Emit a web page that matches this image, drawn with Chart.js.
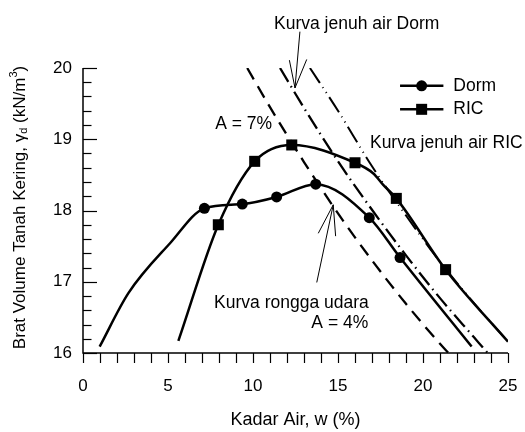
<!DOCTYPE html>
<html lang="id">
<head>
<meta charset="UTF-8">
<title>Kurva pemadatan Dorm dan RIC</title>
<script src="https://cdn.jsdelivr.net/npm/chart.js"></script>
<style>
  body { margin: 0; background: #fff; }
  canvas { display: block; }
</style>
</head>
<body>
<canvas id="chart" width="525" height="432"></canvas>
<script>
// Data: water content w (%) vs dry unit weight (kN/m3)
// Dorm curve (entries without marker are points along the drawn curve)
const dormW = [0.98, 2.67, 5.12, 7.14, 9.37, 11.39, 13.69, 16.84, 18.65, 22.86];
const dormG = [16.09, 16.84, 17.54, 18.03, 18.09, 18.19, 18.37, 17.90, 17.34, 16.09];
const dormMarked = [false, false, false, true, true, true, true, true, true, false];

// RIC curve
const ricW = [5.61, 7.96, 10.10, 12.28, 16.00, 17.08, 17.66, 18.43, 21.33, 25.00];
const ricG = [16.17, 17.80, 18.69, 18.92, 18.67, 18.52, 18.36, 18.17, 17.17, 16.16];
const ricMarked = [false, true, true, true, true, false, false, true, true, false];

// Air-void curve A = 4%
const airW = [9.66, 11, 13, 15, 17, 19, 21, 21.5];
const airG = [20.00, 19.45, 18.68, 17.96, 17.30, 16.69, 16.13, 16.00];

// Saturation curve Dorm
const satDormW = [11.59, 13, 15, 17, 19, 21, 23, 23.8];
const satDormG = [20.00, 19.44, 18.69, 18.01, 17.37, 16.77, 16.22, 16.00];

// Saturation curve RIC
const satRicW = [13.35, 15, 17, 19, 21, 23, 25];
const satRicG = [20.00, 19.40, 18.62, 17.93, 17.28, 16.70, 16.16];

const xTicks = [0, 5, 10, 15, 20, 25];
const yTicks = [16, 17, 18, 19, 20];

const FONT = '"Liberation Sans", Arial, Helvetica, sans-serif';

function pts(xs, ys) {
  return xs.map((x, i) => ({ x: x, y: ys[i] }));
}

// axes, tick marks, labels, arrows and legend, drawn through the scales
const decor = {
  id: 'decor',
  afterDraw(chart) {
    const ctx = chart.ctx;
    const xs = chart.scales.x, ys = chart.scales.y;
    const X = v => xs.getPixelForValue(v);
    const Y = v => ys.getPixelForValue(v);
    const a = chart.chartArea;

    ctx.save();
    ctx.strokeStyle = '#000';
    ctx.fillStyle = '#000';

    // axes
    ctx.lineWidth = 1.5;
    ctx.beginPath();
    ctx.moveTo(a.left, a.top);
    ctx.lineTo(a.left, a.bottom);
    ctx.lineTo(a.right, a.bottom);
    ctx.stroke();

    // y ticks pointing in, every 0.2
    ctx.lineWidth = 1.2;
    for (let i = 0; i <= 20; i++) {
      const v = 16 + i * 0.2;
      const len = i % 5 === 0 ? 14 : 8.5;
      const py = Math.round(Y(v)) + 0.5;
      ctx.beginPath();
      ctx.moveTo(a.left, py);
      ctx.lineTo(a.left + len, py);
      ctx.stroke();
    }
    // x ticks pointing out, every 1
    for (let v = 0; v <= 25; v++) {
      const px = Math.round(X(v)) + 0.5;
      ctx.beginPath();
      ctx.moveTo(px, a.bottom);
      ctx.lineTo(px, a.bottom + 10);
      ctx.stroke();
    }

    // axis titles
    ctx.font = '18px ' + FONT;
    ctx.textAlign = 'center';
    ctx.textBaseline = 'middle';
    ctx.fillText('Kadar Air, w (%)', (a.left + a.right) / 2, 420);

    ctx.save();
    ctx.translate(20, (a.top + a.bottom) / 2 - 3);
    ctx.rotate(-Math.PI / 2);
    const parts = [
      { t: 'Brat Volume Tanah Kering, \u03b3', s: 17, dy: 0 },
      { t: 'd', s: 11, dy: 4 },
      { t: ' (kN/m', s: 17, dy: 0 },
      { t: '3', s: 11, dy: -6 },
      { t: ')', s: 17, dy: 0 }
    ];
    let total = 0;
    parts.forEach(p => { ctx.font = p.s + 'px ' + FONT; p.w = ctx.measureText(p.t).width; total += p.w; });
    let cx = -total / 2;
    ctx.textAlign = 'left';
    parts.forEach(p => { ctx.font = p.s + 'px ' + FONT; ctx.fillText(p.t, cx, p.dy); cx += p.w; });
    ctx.restore();

    // text labels
    ctx.font = '17.5px ' + FONT;
    ctx.textBaseline = 'middle';
    ctx.textAlign = 'center';
    ctx.fillText('Kurva jenuh air Dorm', X(16.1), Y(20.62));
    ctx.textAlign = 'right';
    ctx.fillText('A = 7%', X(11.12), Y(19.21));
    ctx.fillText('A = 4%', X(16.78), Y(16.42));
    ctx.textAlign = 'left';
    ctx.fillText('Kurva jenuh air RIC', X(16.88), Y(18.95));
    ctx.fillText('Kurva rongga udara', X(7.71), Y(16.70));

    // arrows (thin open heads)
    ctx.lineWidth = 1;
    function arrow(bx, by, tx, ty, h1x, h1y, h2x, h2y) {
      ctx.beginPath();
      ctx.moveTo(X(bx), Y(by));
      ctx.lineTo(X(tx), Y(ty));
      ctx.moveTo(X(h1x), Y(h1y));
      ctx.lineTo(X(tx), Y(ty));
      ctx.lineTo(X(h2x), Y(h2y));
      ctx.stroke();
    }
    arrow(12.76, 20.51, 12.47, 19.72, 12.14, 20.11, 13.16, 20.12);
    arrow(13.75, 16.99, 14.72, 18.08, 13.84, 17.68, 14.86, 17.64);

    // legend
    ctx.lineWidth = 2.5;
    const legend = [
      { label: 'Dorm', y: 19.75, style: 'circle' },
      { label: 'RIC', y: 19.42, style: 'rect' }
    ];
    legend.forEach(l => {
      const py = Y(l.y);
      ctx.beginPath();
      ctx.moveTo(X(18.65), py);
      ctx.lineTo(X(21.2), py);
      ctx.stroke();
      const mx = X(19.92);
      if (l.style === 'circle') {
        ctx.beginPath();
        ctx.arc(mx, py, 5.5, 0, Math.PI * 2);
        ctx.fill();
      } else {
        ctx.fillRect(mx - 5.5, py - 5.5, 11, 11);
      }
      ctx.textAlign = 'left';
      ctx.fillText(l.label, X(21.78), py);
    });

    ctx.restore();
  }
};

function fixScale(s, w, h) {
  if (w !== null) s.width = w;
  if (h !== null) s.height = h;
  s.paddingLeft = 0;
  s.paddingRight = 0;
  s.paddingTop = 0;
  s.paddingBottom = 0;
}

new Chart(document.getElementById('chart'), {
  type: 'scatter',
  data: {
    datasets: [
      {
        label: 'Dorm',
        data: pts(dormW, dormG),
        showLine: true,
        borderColor: '#000',
        backgroundColor: '#000',
        borderWidth: 2.5,
        cubicInterpolationMode: 'monotone',
        pointStyle: 'circle',
        pointRadius: dormMarked.map(m => m ? 5.5 : 0),
        pointBorderWidth: 0
      },
      {
        label: 'RIC',
        data: pts(ricW, ricG),
        showLine: true,
        borderColor: '#000',
        backgroundColor: '#000',
        borderWidth: 2.5,
        cubicInterpolationMode: 'monotone',
        pointStyle: 'rect',
        pointRadius: ricMarked.map(m => m ? 7.8 : 0),
        pointBorderWidth: 0
      },
      {
        label: 'A = 4%',
        data: pts(airW, airG),
        showLine: true,
        borderColor: '#000',
        borderWidth: 2.3,
        borderDash: [13, 8],
        cubicInterpolationMode: 'monotone',
        pointRadius: 0
      },
      {
        label: 'Kurva jenuh air Dorm',
        data: pts(satDormW, satDormG),
        showLine: true,
        borderColor: '#000',
        borderWidth: 2.3,
        borderDash: [16, 5, 1.5, 5],
        cubicInterpolationMode: 'monotone',
        pointRadius: 0
      },
      {
        label: 'Kurva jenuh air RIC',
        data: pts(satRicW, satRicG),
        showLine: true,
        borderColor: '#000',
        borderWidth: 2,
        borderDash: [18, 5, 1, 5, 1, 5],
        cubicInterpolationMode: 'monotone',
        pointRadius: 0
      }
    ]
  },
  options: {
    responsive: false,
    animation: false,
    layout: { padding: { top: 68, right: 17, left: 0, bottom: 0 } },
    plugins: { legend: { display: false }, tooltip: { enabled: false } },
    scales: {
      x: {
        type: 'linear',
        min: 0, max: 25,
        afterFit: s => fixScale(s, null, 79),
        afterBuildTicks: s => { s.ticks = xTicks.map(v => ({ value: v })); },
        grid: { display: false, drawTicks: false },
        border: { display: false },
        ticks: { color: '#000', padding: 23, font: { family: FONT, size: 17 } }
      },
      y: {
        type: 'linear',
        min: 16, max: 20,
        afterFit: s => fixScale(s, 83, null),
        afterBuildTicks: s => { s.ticks = yTicks.map(v => ({ value: v })); },
        grid: { display: false, drawTicks: false },
        border: { display: false },
        ticks: { color: '#000', padding: 11, font: { family: FONT, size: 17 } }
      }
    }
  },
  plugins: [decor]
});
</script>
</body>
</html>
